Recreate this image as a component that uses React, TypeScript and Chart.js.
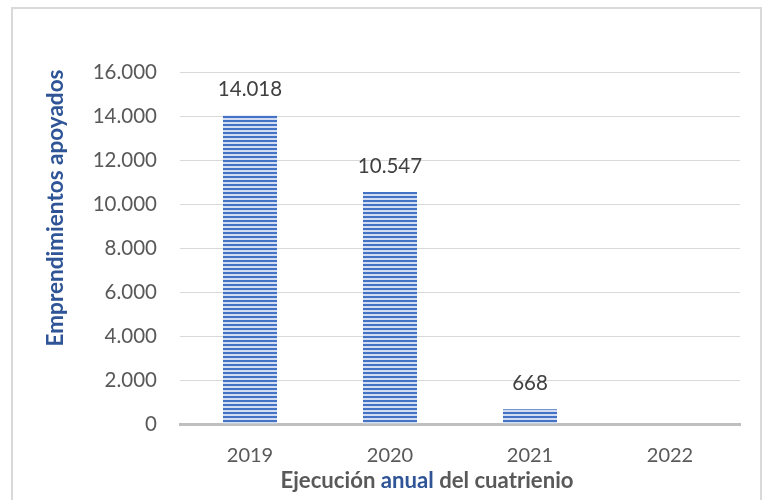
import { useEffect, useRef } from 'react';
import { Chart, registerables } from 'chart.js';

Chart.register(...registerables);

const categories = ['2019', '2020', '2021', '2022'];
const values: (number | null)[] = [14018, 10547, 668, null];
const yTicks = [0, 2000, 4000, 6000, 8000, 10000, 12000, 14000, 16000];
const yTitle = 'Emprendimientos apoyados';
const xTitleParts = [
  { text: 'Ejecución ', color: '#595959' },
  { text: 'anual', color: '#2F5597' },
  { text: ' del cuatrienio', color: '#595959' },
];

const FONT = 'Lato';

function fmt(n: number): string {
  return String(Math.round(n)).replace(/\B(?=(\d{3})+(?!\d))/g, '.');
}

function makePattern(): CanvasPattern | string {
  const c = document.createElement('canvas');
  c.width = 4;
  c.height = 4;
  const g = c.getContext('2d');
  if (!g) return '#4472C4';
  g.fillStyle = '#D2DDF2';
  g.fillRect(0, 0, 4, 4);
  g.fillStyle = '#4472C4';
  g.fillRect(0, 0, 4, 2);
  const p = g.createPattern(c, 'repeat');
  return p || '#4472C4';
}

function fitFont(ctx: CanvasRenderingContext2D, text: string, target: number, weight: string): string {
  ctx.font = `${weight} 20px ${FONT}`;
  const w = ctx.measureText(text).width;
  const size = (20 * target) / w;
  return `${weight} ${size.toFixed(2)}px ${FONT}`;
}

const framePlugin = {
  id: 'frame',
  beforeDraw(chart: Chart) {
    const ctx = chart.ctx;
    ctx.save();
    ctx.fillStyle = '#ffffff';
    ctx.fillRect(0, 0, chart.width, chart.height);
    ctx.strokeStyle = '#D9D9D9';
    ctx.lineWidth = 2;
    ctx.strokeRect(12, 8, 749, 520);
    ctx.restore();
  },
};

const labelPlugin = {
  id: 'valueLabels',
  afterDatasetsDraw(chart: Chart) {
    const ctx = chart.ctx;
    const meta = chart.getDatasetMeta(0);
    ctx.save();
    ctx.fillStyle = '#404040';
    ctx.font = `20.5px ${FONT}`;
    ctx.textAlign = 'center';
    ctx.textBaseline = 'middle';
    meta.data.forEach((el: any, i: number) => {
      const v = values[i];
      if (v === null || v === undefined) return;
      ctx.fillText(fmt(v), el.x, el.y - 26);
    });
    ctx.restore();
  },
};

const titlePlugin = {
  id: 'axisTitles',
  afterDraw(chart: Chart) {
    const ctx = chart.ctx;
    ctx.save();
    // Y title
    ctx.font = fitFont(ctx, yTitle, 277, 'bold');
    ctx.fillStyle = '#2F5597';
    ctx.textAlign = 'center';
    ctx.textBaseline = 'middle';
    ctx.translate(56, 208);
    ctx.rotate(-Math.PI / 2);
    ctx.fillText(yTitle, 0, 0);
    ctx.setTransform(1, 0, 0, 1, 0, 0);
    // X title (multi-color)
    const full = xTitleParts.map((p) => p.text).join('');
    ctx.font = fitFont(ctx, full, 293, 'bold');
    const total = ctx.measureText(full).width;
    let x = 427 - total / 2;
    ctx.textAlign = 'left';
    ctx.textBaseline = 'middle';
    xTitleParts.forEach((p) => {
      ctx.fillStyle = p.color;
      ctx.fillText(p.text, x, 481);
      x += ctx.measureText(p.text).width;
    });
    ctx.restore();
  },
};

export default function App() {
  const ref = useRef<HTMLCanvasElement | null>(null);

  useEffect(() => {
    if (!ref.current) return;
    const chart = new Chart(ref.current, {
      type: 'bar',
      data: {
        labels: categories,
        datasets: [
          {
            data: values as any,
            backgroundColor: makePattern() as any,
            borderWidth: 0,
            categoryPercentage: 1,
            barPercentage: 0.386,
          },
        ],
      },
      options: {
        responsive: false,
        animation: false,
        devicePixelRatio: 1,
        layout: { padding: { left: 0, right: 22, top: 72, bottom: 0 } },
        plugins: {
          legend: { display: false },
          tooltip: { enabled: false },
        },
        scales: {
          x: {
            grid: { display: false, drawTicks: false },
            border: { display: true, color: '#BFBFBF', width: 3 },
            ticks: {
              color: '#595959',
              font: { family: FONT, size: 20 },
              padding: 20,
            },
            afterFit: (s: any) => {
              s.height = 76;
            },
          },
          y: {
            min: 0,
            max: 16000,
            afterBuildTicks: (s: any) => {
              s.ticks = yTicks.map((v) => ({ value: v }));
            },
            ticks: {
              color: '#595959',
              font: { family: FONT, size: 20.5 },
              padding: 23,
              callback: (v: any) => fmt(Number(v)),
            },
            grid: {
              color: (c: any) => (c.tick && c.tick.value === 0 ? 'rgba(0,0,0,0)' : '#D9D9D9'),
              drawTicks: false,
              lineWidth: 1,
            },
            border: { display: false },
            afterFit: (s: any) => {
              s.width = 180;
            },
          },
        },
      },
      plugins: [framePlugin, labelPlugin, titlePlugin],
    });
    return () => chart.destroy();
  }, []);

  return (
    <div style={{ position: 'absolute', left: 0, top: 0, width: 762, height: 500 }}>
      <canvas ref={ref} width={762} height={500} style={{ display: 'block', width: 762, height: 500 }} />
    </div>
  );
}
